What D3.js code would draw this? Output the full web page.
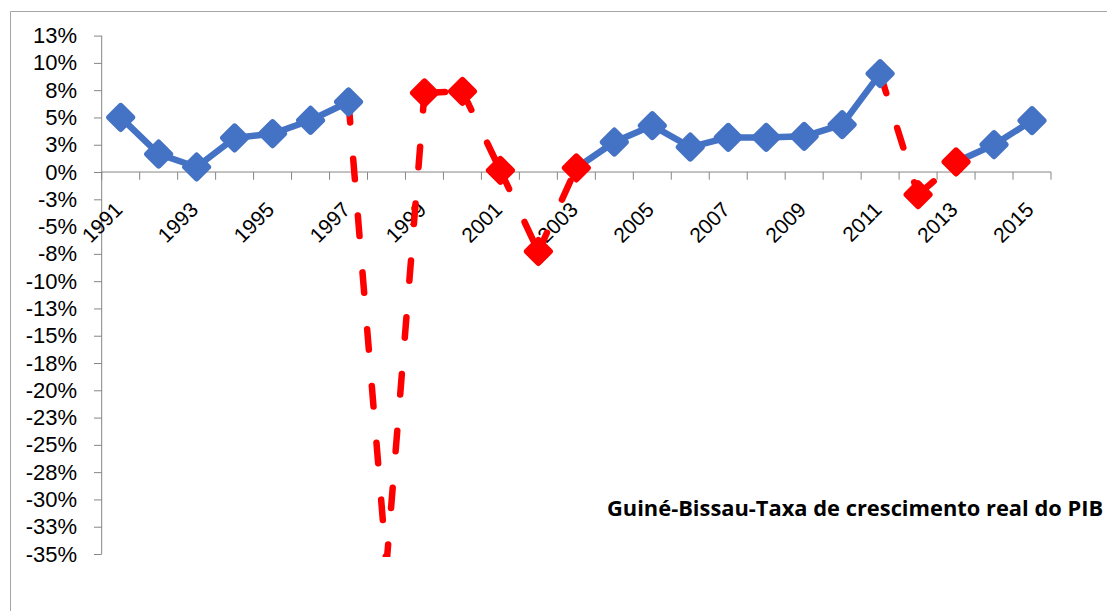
<!DOCTYPE html>
<html>
<head>
<meta charset="utf-8">
<script src="https://cdn.jsdelivr.net/npm/d3@7"></script>
<style>
  html, body { margin: 0; padding: 0; background: #ffffff; }
  svg { display: block; }
  text { font-family: "Liberation Sans", Arial, sans-serif; fill: #000; }
</style>
</head>
<body>
<svg id="chart" width="1107" height="611"></svg>
<script>
// Real GDP growth rate of Guinea-Bissau, 1991-2015 (%)
const years = d3.range(1991, 2016);
const growth = [5.0, 1.65, 0.46, 3.12, 3.51, 4.74, 6.42, -36.0, 7.25, 7.39,
                0.15, -7.28, 0.37, 2.75, 4.25, 2.29, 3.17, 3.17, 3.27, 4.34,
                9.02, -2.08, 0.92, 2.50, 4.71];
// Years whose point (and the segment leading into it) are highlighted in red
const highlighted = [1998, 1999, 2000, 2001, 2002, 2003, 2012, 2013];
const yTicks = d3.range(-35, 12.5 + 0.01, 2.5);
const labelYears = years.filter(y => (y - 1991) % 2 === 0);
const titleText = "Guiné-Bissau-Taxa de crescimento real do PIB";

const svg = d3.select("#chart");
const W = 1107, H = 611;
const plot = { left: 101.7, right: 1051, top: 35.6, bottom: 554 };

const x = d3.scaleBand().domain(years).range([plot.left, plot.right]).padding(0);
const y = d3.scaleLinear().domain([-35, 12.5]).range([plot.bottom, plot.top]);
const cx = yr => x(yr) + x.bandwidth() / 2;

const blue = "#4472C4", red = "#FF0000", axisGray = "#868686";

// chart frame
svg.append("path")
  .attr("d", `M10.5,${H} V11.5 H${W}`)
  .attr("fill", "none").attr("stroke", "#a6a6a6").attr("stroke-width", 1);

// y axis
const yAxis = d3.axisLeft(y).tickValues(yTicks).tickSize(7.7).tickPadding(17)
  .tickFormat(v => {
    const r = Math.sign(v) * Math.round(Math.abs(v));
    return r + "%";
  });
const gy = svg.append("g").attr("transform", `translate(${plot.left},0)`).call(yAxis);
gy.select(".domain").attr("d", `M0,${plot.top}V${plot.bottom}`).attr("stroke", axisGray);
gy.selectAll(".tick line").attr("stroke", axisGray);
gy.selectAll(".tick text").style("font-size", "22px").attr("fill", "#000");

// x axis along 0%
const gx = svg.append("g").attr("transform", `translate(0,${y(0)})`);
gx.append("line").attr("x1", plot.left).attr("x2", plot.right)
  .attr("stroke", axisGray).attr("stroke-width", 1);
const bounds = years.map(d => x(d)).concat([plot.right]);
gx.selectAll("line.tk").data(bounds).join("line").attr("class", "tk")
  .attr("x1", d => d).attr("x2", d => d).attr("y1", 0).attr("y2", 7.7)
  .attr("stroke", axisGray);
gx.selectAll("text.yr").data(labelYears).join("text").attr("class", "yr")
  .attr("text-anchor", "end")
  .attr("transform", d => `translate(${cx(d) + 3},${39}) rotate(-45)`)
  .style("font-size", "21px")
  .text(d => d);

// series
svg.append("clipPath").attr("id", "plotclip")
  .append("rect").attr("x", plot.left).attr("y", plot.top - 20)
  .attr("width", plot.right - plot.left + 20).attr("height", 557 - plot.top + 20);

const pts = years.map((yr, i) => ({ yr, v: growth[i], red: highlighted.includes(yr) }));
const gl = svg.append("g").attr("clip-path", "url(#plotclip)");
const line = d3.line().x(d => cx(d.yr)).y(d => y(d.v));

// segments: each one takes the style of the point it leads into
for (let i = 1; i < pts.length; i++) {
  const seg = [pts[i - 1], pts[i]];
  const isRed = pts[i].red;
  gl.append("path")
    .attr("d", line(seg))
    .attr("fill", "none")
    .attr("stroke", isRed ? red : blue)
    .attr("stroke-width", 6.5)
    .attr("stroke-linecap", "round")
    .attr("stroke-linejoin", "round")
    .attr("stroke-dasharray", isRed ? "20.5 36.5" : null);
}

// diamond markers
const diamond = r => `M0,${-r}L${r},0L0,${r}L${-r},0Z`;
gl.selectAll("path.mk").data(pts.filter(p => p.v >= -35)).join("path").attr("class", "mk")
  .attr("d", diamond(11.5))
  .attr("transform", d => `translate(${cx(d.yr)},${y(d.v)})`)
  .attr("fill", d => d.red ? red : blue)
  .attr("stroke", d => d.red ? red : blue)
  .attr("stroke-width", 6)
  .attr("stroke-linejoin", "round");

// title, sized to fill the space up to the right edge
const title = svg.append("text")
  .attr("x", 607).attr("y", 516)
  .style("font-family", "'Open Sans', 'Liberation Sans', sans-serif")
  .style("font-size", "20px").style("font-weight", "bold")
  .text(titleText);
const tl = title.node().getComputedTextLength();
title.style("font-size", (20 * 496 / tl).toFixed(2) + "px");
</script>
</body>
</html>
